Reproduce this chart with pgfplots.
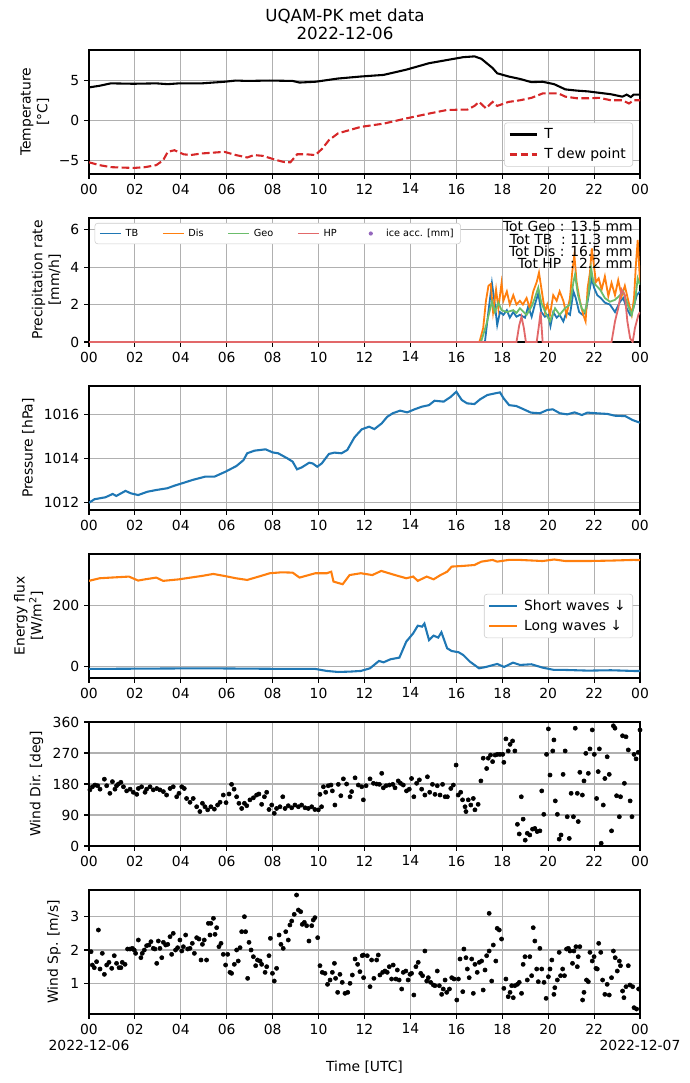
\documentclass[border=0pt]{standalone}
\usepackage{fontspec}
\setmainfont{DejaVu Sans}
\usepackage{pgfplots}
\pgfplotsset{compat=1.18}
\definecolor{tabblue}{HTML}{1F77B4}
\definecolor{taborange}{HTML}{FF7F0E}
\definecolor{tabgreen}{HTML}{6BBD6B}
\definecolor{tabred}{HTML}{D62728}
\definecolor{hpred}{HTML}{E26869}
\definecolor{tabpurple}{HTML}{9467BD}
\definecolor{gridgray}{HTML}{B0B0B0}
\definecolor{legendgray}{HTML}{CCCCCC}
\newcommand{\hh}[1]{\pgfmathtruncatemacro\hv{mod(round(#1),24)}\ifnum\hv<10 0\fi\hv}
\pgfplotsset{
  legline/.style={legend image code/.code={\draw[##1] (0pt,0pt) -- (20pt,0pt); \path[draw=none,fill=none] (0pt,0pt) -- (23pt,0pt);}},
  smallline/.style={legend image code/.code={\draw[##1] (0pt,0pt) -- (15pt,0pt); \path[draw=none,fill=none] (0pt,0pt) -- (16.5pt,0pt);}},
  smalldot/.style={legend image code/.code={\path[draw=none,fill=none] (0pt,0pt) -- (16.5pt,0pt); \fill[tabpurple, draw=none] (7.5pt,0pt) circle (1.5pt);}},
  mpl/.style={
    scale only axis, width=396.72pt, height=89.28pt,
    anchor=north west,
    xmin=0, xmax=24,
    xtick={0,2,4,6,8,10,12,14,16,18,20,22,24},
    xticklabel={\hh{\tick}},
    grid=major,
    grid style={line width=0.8pt, color=gridgray},
    axis line style={line width=0.8pt},
    major tick style={line width=0.8pt, black},
    tick align=outside,
    major tick length=3.5pt,
    tick pos=left,
    tick label style={font=\fontsize{10}{12}\selectfont},
    label style={font=\fontsize{10}{12}\selectfont},
    ylabel style={align=center},
    legend cell align=left,
    legend style={draw=legendgray, rounded corners=2pt, fill=white,
      font=\fontsize{10}{12}\selectfont, row sep=1.5pt},
  },
}
\begin{document}
\begin{tikzpicture}
\useasboundingbox (0,0) rectangle (496.8pt,-779.76pt);

% ---------- Panel 1: temperature
\begin{axis}[mpl, at={(64.08pt,-36pt)},
  ymin=-6.65, ymax=8.74, ytick={-5,0,5}, yticklabels={−5,0,5},
  ylabel={Temperature\\{[°C]}},
  legend style={at={(0.9873,0.059)}, anchor=south east}]
\addplot[black, line width=1.5pt, legline] coordinates {
(0,4.1)(0.46,4.3)(0.95,4.6)(1.94,4.55)(2.93,4.6)(3.43,4.5)(3.92,4.6)(4.91,4.6)(5.9,4.8)(6.4,4.95)(6.89,4.9)(7.88,4.95)(8.87,4.9)(9.17,4.7)(9.86,4.8)(10.36,5.0)(10.85,5.2)(11.84,5.45)(12.83,5.65)(13.82,6.3)(14.81,7.1)(15.8,7.6)(16.3,7.85)(16.79,7.95)(17.09,7.65)(17.58,6.5)(17.78,5.85)(18.28,5.45)(18.77,5.15)(19.27,4.75)(19.76,4.8)(20.26,4.5)(20.75,3.85)(21.25,3.7)(21.74,3.6)(22.73,3.25)(23.23,2.95)(23.42,3.2)(23.6,2.9)(23.72,3.2)(24,3.2)};
\addlegendentry{T}
\addplot[tabred, line width=1.5pt, dash pattern=on 5.55pt off 2.4pt, legline] coordinates {
(0,-5.2)(0.46,-5.55)(0.95,-5.8)(1.94,-5.9)(2.44,-5.8)(2.93,-5.55)(3.23,-4.95)(3.43,-3.9)(3.72,-3.7)(4.12,-4.2)(4.42,-4.3)(4.91,-4.1)(5.9,-3.9)(6.4,-4.3)(6.89,-4.6)(7.19,-4.3)(7.58,-4.4)(8.08,-4.85)(8.47,-5.15)(8.77,-5.2)(9.07,-4.2)(9.46,-4.2)(9.86,-4.3)(10.16,-3.5)(10.45,-2.45)(10.85,-1.6)(11.35,-1.2)(11.84,-0.8)(12.83,-0.4)(13.82,0.25)(14.81,0.85)(15.6,1.3)(16.49,1.35)(16.79,1.8)(16.99,2.3)(17.29,1.5)(17.58,2.3)(17.78,1.8)(18.28,2.3)(18.77,2.5)(19.27,2.8)(19.76,3.35)(20.45,3.35)(20.75,2.95)(21.25,2.75)(21.74,2.75)(22.24,2.8)(22.73,2.5)(23.23,2.5)(23.52,2.1)(23.72,2.5)(24,2.5)};
\addlegendentry{T dew point}
\end{axis}

% ---------- Panel 2: precipitation
\begin{axis}[mpl, at={(64.08pt,-156.96pt)},
  ymin=0, ymax=6.62, ytick={0,2,4,6}, yticklabels={0,2,4,6},
  ylabel={Precipitation rate\\{[mm/h]}},
  legend columns=5,
  legend style={at={(0.0102,0.96)}, anchor=north west, row sep=0pt,
    font=\fontsize{7}{8}\selectfont,
    /tikz/every even column/.append style={column sep=15pt}}]
\addplot[tabblue, line width=1.3pt, smallline] coordinates {
(0,0)(17.2,0)(17.25,0.05)(17.4,1.65)(17.55,3.15)(17.68,2.0)(17.78,0.9)(17.9,1.6)(18.05,1.45)(18.2,1.7)(18.33,1.3)(18.48,1.6)(18.62,1.35)(18.77,1.45)(18.99,1.3)(19.13,1.9)(19.28,1.35)(19.42,2.0)(19.57,2.6)(19.7,1.6)(19.86,1.35)(20.0,1.45)(20.1,0.85)(20.22,1.6)(20.37,1.3)(20.5,1.45)(20.66,1.1)(20.8,1.6)(20.95,1.45)(21.1,2.7)(21.2,2.35)(21.35,1.6)(21.5,1.45)(21.64,1.6)(21.79,2.7)(21.9,3.4)(22.0,2.9)(22.14,2.5)(22.29,2.35)(22.47,2.1)(22.69,2.0)(22.91,1.6)(23.13,2.15)(23.27,2.35)(23.42,1.8)(23.57,1.45)(23.71,1.8)(23.86,2.5)(24,2.7)};
\addlegendentry{TB}
\addplot[taborange, line width=1.3pt, smallline] coordinates {
(0,0)(17.0,0)(17.03,0.1)(17.17,0.75)(17.29,2.2)(17.4,3.0)(17.5,3.1)(17.6,1.6)(17.73,2.8)(17.83,1.8)(17.97,3.15)(18.05,2.2)(18.2,2.7)(18.33,2.0)(18.48,2.5)(18.62,2.0)(18.77,2.2)(18.9,2.0)(19.06,2.35)(19.2,1.8)(19.35,2.7)(19.5,3.2)(19.6,3.7)(19.7,2.9)(19.86,1.6)(19.96,2.0)(20.08,1.45)(20.22,2.5)(20.37,2.2)(20.5,2.7)(20.66,2.2)(20.8,1.45)(20.95,2.35)(21.05,3.75)(21.14,4.65)(21.24,3.2)(21.38,2.2)(21.53,1.45)(21.63,1.1)(21.72,2.9)(21.82,3.7)(21.9,5.0)(21.97,4.3)(22.08,3.2)(22.2,3.4)(22.33,2.8)(22.47,3.5)(22.62,2.45)(22.76,3.15)(22.91,2.5)(23.05,3.3)(23.2,2.45)(23.34,3.0)(23.49,2.2)(23.64,1.45)(23.74,2.35)(23.82,4.1)(23.9,5.45)(24,3.2)};
\addlegendentry{Dis}
\addplot[tabgreen, line width=1.3pt, smallline] coordinates {
(0,0)(17.05,0)(17.1,0.1)(17.3,0.9)(17.55,2.15)(17.68,1.6)(17.83,2.1)(17.97,1.7)(18.2,1.6)(18.48,1.7)(18.62,1.55)(18.77,1.8)(19.06,1.45)(19.28,1.9)(19.42,2.35)(19.57,2.9)(19.7,2.1)(19.93,1.45)(20.08,1.1)(20.3,1.8)(20.5,1.45)(20.73,1.8)(20.95,2.0)(21.1,3.2)(21.17,3.6)(21.3,2.5)(21.46,1.8)(21.6,1.6)(21.75,2.5)(21.87,3.95)(21.97,3.2)(22.1,3.0)(22.26,2.8)(22.47,2.35)(22.69,2.15)(22.91,2.25)(23.13,2.5)(23.27,2.7)(23.49,1.9)(23.64,1.45)(23.78,2.15)(23.9,3.4)(24,3.05)};
\addlegendentry{Geo}
\addplot[hpred, line width=1.3pt, smallline] coordinates {
(0,0)(18.62,0)(18.74,0.9)(18.84,1.35)(18.94,0.75)(19.03,0)(19.5,0)(19.6,0.9)(19.67,1.6)(19.76,0)(22.76,0)(22.91,1.1)(23.05,1.8)(23.2,2.8)(23.34,2.5)(23.45,1.1)(23.57,0.2)(23.68,0)(23.78,0.75)(23.93,1.45)(24,1.6)};
\addlegendentry{HP}
\addlegendimage{smalldot}
\addlegendentry{ice acc. [mm]}
\node[anchor=north east, align=right, inner sep=0pt, font=\fontsize{10}{8.9}\selectfont] at (rel axis cs:0.9873,0.975)
  {Tot Geo : 13.5 mm\\Tot TB\ \ : 11.3 mm\\Tot Dis : 16.5 mm\\Tot HP\ \ : 2.2 mm};
\end{axis}

% ---------- Panel 3: pressure
\begin{axis}[mpl, at={(64.08pt,-277.92pt)},
  ymin=1011.65, ymax=1017.29, ytick={1012,1014,1016}, yticklabels={1012,1014,1016},
  ylabel={Pressure [hPa]}]
\addplot[tabblue, line width=1.5pt] coordinates {
(0,1011.98)(0.24,1012.14)(0.72,1012.23)(1.03,1012.38)(1.19,1012.29)(1.59,1012.52)(1.82,1012.41)(2.14,1012.33)(2.54,1012.48)(2.93,1012.56)(3.41,1012.64)(3.73,1012.76)(4.04,1012.86)(4.52,1013.02)(5.07,1013.17)(5.47,1013.17)(5.94,1013.39)(6.42,1013.65)(6.73,1013.92)(6.89,1014.23)(7.21,1014.35)(7.69,1014.41)(8.0,1014.27)(8.24,1014.23)(8.64,1014.0)(8.87,1013.85)(9.06,1013.5)(9.27,1013.59)(9.59,1013.8)(9.74,1013.77)(9.94,1013.62)(10.14,1013.77)(10.45,1014.2)(10.69,1014.26)(11.0,1014.23)(11.25,1014.38)(11.56,1014.95)(11.88,1015.32)(12.2,1015.44)(12.43,1015.33)(12.75,1015.59)(12.99,1015.89)(13.23,1016.05)(13.55,1016.17)(13.86,1016.09)(14.18,1016.23)(14.5,1016.35)(14.81,1016.42)(15.05,1016.62)(15.45,1016.58)(15.76,1016.8)(16.0,1017.03)(16.24,1016.65)(16.47,1016.5)(16.79,1016.47)(17.03,1016.68)(17.35,1016.88)(17.66,1016.95)(17.9,1017.0)(18.06,1016.73)(18.3,1016.42)(18.61,1016.38)(18.85,1016.27)(19.25,1016.08)(19.64,1016.05)(19.96,1016.2)(20.2,1016.23)(20.51,1016.05)(20.83,1016.0)(21.15,1016.09)(21.47,1015.97)(21.71,1016.08)(22.1,1016.05)(22.58,1016.02)(22.9,1015.94)(23.36,1015.92)(23.68,1015.74)(24,1015.62)};
\end{axis}

% ---------- Panel 4: energy flux
\begin{axis}[mpl, at={(64.08pt,-398.88pt)},
  ymin=-38.4, ymax=368, ytick={0,200}, yticklabels={0,200},
  ylabel={Energy flux\\{[W/m\textsuperscript{2}]}},
  legend style={at={(0.9873,0.5)}, anchor=east}]
\addplot[tabblue, line width=1.5pt, legline] coordinates {
(0,-8.7)(4.91,-6.6)(8.87,-8.7)(9.86,-8.7)(10.36,-15.3)(10.85,-18.6)(11.35,-17.5)(11.84,-15.3)(12.24,-6.6)(12.63,17.5)(12.83,13)(13.13,23)(13.52,28.4)(13.82,81)(14.12,108)(14.32,133)(14.51,130)(14.61,140)(14.81,86)(15.01,100.5)(15.21,94)(15.35,111.5)(15.6,59)(15.8,50)(16.1,46)(16.3,37)(16.59,15.3)(16.99,-6.6)(17.29,-2.2)(17.78,7.7)(18.08,-2.2)(18.47,12)(18.77,4.4)(19.27,6.6)(19.76,-4.4)(20.26,-12)(20.75,-12)(21.74,-14.2)(22.73,-13)(23.72,-15.3)(24,-15.3)};
\addlegendentry{Short waves ↓}
\addplot[taborange, line width=1.5pt, legline] coordinates {
(0,280)(0.46,288.5)(0.95,290.7)(1.74,294)(2.14,281)(2.44,285)(2.93,290.7)(3.23,280)(3.92,285)(4.42,290.7)(4.91,296)(5.41,302.7)(5.9,296)(6.4,288.5)(6.89,283)(7.39,294)(7.88,305)(8.38,308)(8.87,307)(9.17,290.7)(9.86,305)(10.36,305)(10.55,310)(10.65,277.6)(11.05,268.9)(11.35,299)(11.84,305)(12.34,299)(12.73,312.6)(13.33,299)(13.82,288.5)(14.12,294)(14.32,280)(14.71,294)(15.01,285)(15.31,299)(15.6,310)(15.8,326.8)(16.3,329)(16.79,332)(17.09,343)(17.58,348.6)(17.78,343)(18.28,348.6)(18.77,348.6)(19.76,345)(20.26,350)(20.75,345)(21.74,345)(22.73,346.4)(23.72,348.6)(24,348)};
\addlegendentry{Long waves ↓}
\end{axis}

% ---------- Panel 5: wind direction
\begin{axis}[mpl, at={(64.08pt,-519.84pt)},
  ymin=0, ymax=360, ytick={0,90,180,270,360}, yticklabels={0,90,180,270,360},
  ylabel={Wind Dir. [deg]}]
\addplot[only marks, mark=*, mark size=1.5pt, black] coordinates {
(0.04,163)(0.15,172)(0.26,177)(0.38,175)(0.48,165)(0.67,194)(0.77,175)(0.91,153)(1.02,187)(1.13,165)(1.2,175)(1.28,180)(1.39,185)(1.5,172)(1.64,160)(1.79,165)(1.93,156)(2.08,150)(2.15,167)(2.29,172)(2.44,156)(2.51,165)(2.66,172)(2.8,163)(2.95,167)(3.09,163)(3.24,158)(3.38,148)(3.53,167)(3.67,172)(3.82,143)(3.92,153)(4.04,172)(4.15,167)(4.25,138)(4.4,127)(4.54,138)(4.69,114)(4.83,100)(4.94,124)(5.05,114)(5.17,105)(5.31,114)(5.46,107)(5.6,119)(5.71,127)(5.85,148)(5.97,126)(6.1,151)(6.21,179)(6.32,165)(6.43,143)(6.53,124)(6.65,109)(6.77,124)(6.87,117)(7.01,134)(7.16,140)(7.3,148)(7.4,151)(7.52,121)(7.64,143)(7.74,156)(7.84,106)(7.96,119)(8.07,95)(8.17,109)(8.32,114)(8.44,143)(8.54,109)(8.68,117)(8.83,111)(8.97,119)(9.12,114)(9.26,119)(9.41,111)(9.55,109)(9.7,114)(9.84,106)(9.99,105)(10.13,114)(10.06,150)(10.21,172)(10.31,156)(10.42,175)(10.54,177)(10.6,160)(10.71,119)(10.86,179)(10.97,146)(11.08,195)(11.22,180)(11.37,143)(11.44,158)(11.59,198)(11.73,177)(11.88,172)(11.95,134)
(12.07,175)(12.24,195)(12.39,182)(12.53,180)(12.65,179)(12.75,211)(12.82,169)(12.94,175)(13.08,177)(13.23,179)(13.33,169)(13.47,189)(13.57,182)(13.69,177)(13.83,160)(13.95,165)(14.05,196)(14.15,143)(14.27,182)(14.39,192)(14.49,165)(14.63,148)(14.74,201)(14.84,156)(14.96,179)(15.07,150)(15.17,175)(15.29,148)(15.4,179)(15.51,143)(15.61,143)(15.76,167)(15.87,177)(15.99,235)(16.08,148)(16.19,156)(16.27,134)(16.38,114)(16.42,100)(16.52,134)(16.63,119)(16.74,138)(16.81,105)(16.95,121)(17.07,189)(17.17,255)(17.32,225)(17.39,255)(17.49,264)(17.58,245)(17.69,264)(17.79,266)(17.9,266)(18.02,266)(18.07,243)(18.16,311)(18.26,276)(18.34,295)(18.45,305)(18.55,276)(18.66,63)(18.74,35)(18.83,143)(18.91,78)(19.0,17)(19.09,37)(19.2,32)(19.32,49)(19.42,51)(19.52,42)(19.64,44)(19.72,160)(19.81,92)(19.93,266)(20.01,340)(20.08,206)(20.2,276)(20.25,308)(20.31,131)(20.4,92)(20.48,20)(20.56,32)(20.65,208)(20.74,276)(20.83,85)(20.92,22)(21.0,153)(21.1,85)(21.18,342)(21.27,153)(21.31,71)(21.38,214)(21.49,148)(21.56,189)(21.64,269)(21.75,211)(21.82,282)(21.92,337)(22.01,266)(22.11,138)(22.18,216)(22.23,282)(22.31,8)(22.4,119)(22.47,196)(22.57,259)(22.66,208)(22.76,44)(22.84,349)(22.91,342)(22.98,146)(23.1,85)(23.15,143)(23.24,320)(23.32,182)(23.39,317)(23.49,279)(23.57,131)(23.65,85)(23.74,266)(23.83,253)(23.92,272)(24.0,337)};
\end{axis}

% ---------- Panel 6: wind speed
\begin{axis}[mpl, at={(64.08pt,-640.8pt)},
  ymin=0.08, ymax=3.8, ytick={1,2,3}, yticklabels={1,2,3},
  ylabel={Wind Sp. [m/s]},
  xticklabels={{00\\2022-12-06},02,04,06,08,10,12,14,16,18,20,22,{00\\2022-12-07}},
  xticklabel style={align=center},
  xlabel={Time [UTC]}]
\addplot[only marks, mark=*, mark size=1.5pt, black] coordinates {
(0.09,1.95)(0.145,1.55)(0.23,1.47)(0.33,1.65)(0.41,2.6)(0.48,1.43)(0.58,1.9)(0.67,1.27)(0.77,1.55)(0.87,1.63)(0.99,1.45)(1.1,1.83)(1.2,1.6)(1.31,1.47)(1.39,1.47)(1.45,1.63)(1.57,1.57)(1.68,2.03)(1.79,2.03)(1.89,2.05)(1.97,2.0)(2.03,1.9)(2.15,2.3)(2.26,1.77)(2.32,1.9)(2.41,2.0)(2.51,2.13)(2.61,2.15)(2.7,2.25)(2.8,2.05)(2.87,2.03)(2.95,1.6)(3.02,2.27)(3.09,2.05)(3.17,1.77)(3.24,2.23)(3.34,2.15)(3.43,2.17)(3.53,2.4)(3.6,1.87)(3.67,2.5)(3.77,2.0)(3.86,2.07)(3.96,2.3)(4.04,1.97)(4.11,2.1)(4.21,2.45)(4.3,2.03)(4.4,2.05)(4.5,2.2)(4.59,1.9)(4.69,2.37)(4.79,2.33)(4.88,1.7)(4.94,2.17)(5.02,2.3)(5.12,1.7)(5.2,2.8)(5.27,2.45)(5.31,2.8)(5.42,2.95)(5.49,2.47)(5.56,2.67)(5.66,2.1)(5.75,2.2)(5.85,1.87)(5.95,1.55)(6.04,1.87)(6.14,1.33)(6.21,1.3)(6.33,1.57)(6.43,2.0)(6.5,1.67)(6.58,2.07)(6.65,2.55)(6.77,3.0)(6.82,2.55)(6.91,1.15)(6.97,2.23)(7.06,2.0)(7.16,1.8)(7.26,1.53)(7.34,1.7)(7.45,1.67)(7.52,1.57)(7.67,1.33)(7.74,1.5)(7.84,1.83)(7.9,2.35)(7.99,1.3)(8.07,1.07)(8.17,1.45)(8.28,2.45)(8.36,2.17)(8.46,2.05)(8.57,2.55)(8.68,2.3)(8.75,2.75)(8.83,2.87)(8.94,3.07)(9.04,3.65)(9.12,3.2)(9.22,3.15)(9.29,2.77)(9.38,2.83)(9.48,2.73)(9.58,2.27)(9.7,2.73)(9.77,2.9)(9.84,2.97)(9.96,2.37)(10.06,1.53)(10.16,1.33)(10.28,1.3)(10.39,0.97)(10.5,1.1)(10.6,1.33)(10.69,1.6)(10.74,1.15)(10.83,0.73)(10.93,1.27)(11.03,1.03)(11.15,0.7)(11.27,0.73)(11.37,1.0)(11.47,1.25)(11.59,1.73)(11.7,1.57)(11.8,1.35)(11.9,1.83)(11.96,1.17)
(11.95,1.85)(12.12,1.83)(12.24,0.9)(12.31,1.7)(12.41,1.15)(12.53,1.7)(12.6,1.85)(12.67,1.25)(12.79,1.33)(12.89,1.37)(12.99,1.33)(13.08,1.5)(13.18,1.13)(13.25,1.55)(13.37,1.13)(13.43,1.4)(13.51,1.1)(13.62,0.83)(13.69,1.33)(13.8,1.37)(13.9,1.1)(13.98,1.27)(14.05,1.3)(14.15,0.65)(14.24,1.5)(14.34,1.63)(14.45,1.3)(14.53,1.23)(14.63,1.97)(14.71,1.07)(14.78,1.17)(14.88,1.03)(15.0,0.95)(15.07,0.93)(15.17,1.37)(15.26,0.93)(15.36,0.67)(15.43,0.83)(15.51,1.1)(15.58,0.73)(15.7,0.83)(15.8,1.17)(15.9,1.13)(16.02,0.5)(16.09,1.13)(16.16,1.73)(16.28,0.75)(16.33,2.03)(16.42,1.77)(16.48,1.43)(16.56,1.17)(16.67,1.73)(16.74,0.7)(16.81,1.57)(16.91,1.33)(17.0,1.63)(17.1,1.67)(17.17,0.8)(17.25,1.4)(17.32,1.83)(17.43,1.97)(17.54,1.07)(17.61,2.15)(17.72,1.67)(17.78,2.65)(17.87,2.6)(17.43,3.1)(17.97,2.33)(18.07,0.85)(18.16,1.13)(18.26,0.6)(18.34,0.73)(18.41,0.93)(18.48,0.57)(18.55,0.93)(18.66,0.97)(18.74,1.03)(18.84,0.7)(18.91,1.57)(18.99,1.8)(19.09,1.1)(19.2,1.8)(19.28,1.23)(19.35,2.67)(19.42,2.27)(19.5,1.43)(19.57,1.05)(19.64,2.05)(19.72,1.43)(19.82,1.03)(19.91,0.55)(20.01,1.2)(20.08,1.43)(20.16,1.7)(20.25,0.67)(20.29,0.87)(20.4,1.1)(20.48,1.93)(20.54,1.23)(20.63,1.43)(20.71,1.23)(20.8,2.03)(20.88,2.05)(20.95,1.97)(21.06,1.6)(21.12,1.97)(21.21,2.1)(21.27,1.5)(21.31,1.8)(21.38,2.1)(21.5,0.5)(21.56,0.73)(21.67,1.1)(21.75,1.05)(21.82,1.93)(21.92,1.67)(22.0,1.8)(22.08,1.45)(22.14,1.43)(22.2,2.2)(22.29,1.93)(22.37,1.1)(22.47,0.67)(22.57,0.97)(22.66,0.65)(22.76,1.17)(22.84,1.97)(22.92,1.77)(23.01,1.37)(23.1,1.67)(23.15,1.53)(23.24,0.77)(23.3,0.57)(23.39,0.9)(23.49,1.53)(23.56,0.95)(23.68,0.9)(23.74,0.27)(23.85,0.23)(23.94,0.83)};
\end{axis}
\node[align=center, font=\fontsize{12}{12.7}\selectfont] at (248.4pt,-17.7pt) {UQAM-PK met data\\2022-12-06};
\end{tikzpicture}
\end{document}
